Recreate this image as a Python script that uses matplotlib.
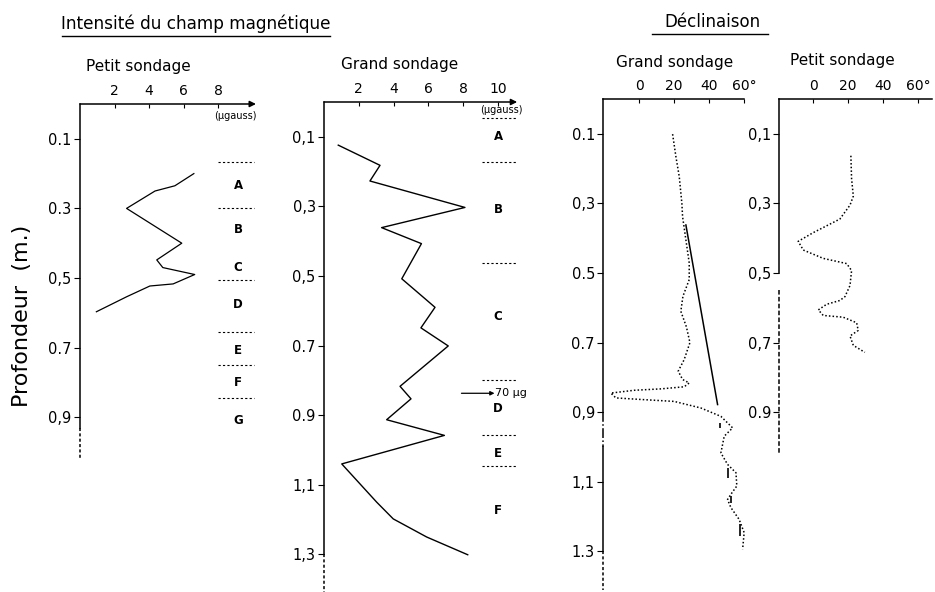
import matplotlib
matplotlib.use("Agg")
import matplotlib.pyplot as plt
from matplotlib.lines import Line2D

W, H = 935, 592

# Intensité du champ magnétique - petit sondage (µgauss / profondeur m)
int_petit_val = [6.6, 5.5, 4.35, 2.7, 5.9, 4.45, 4.8, 6.65, 5.4, 4.05, 2.7, 0.95]
int_petit_prof = [0.20, 0.235, 0.25, 0.30, 0.40, 0.448, 0.47, 0.49, 0.517, 0.523, 0.554, 0.597]

# Intensité - grand sondage
int_grand_val = [0.82, 3.22, 2.64, 8.1, 3.31, 5.6, 4.47, 5.8, 6.38, 5.57, 7.14, 4.37,
                 5.0, 3.6, 6.92, 1.02, 3.03, 3.98, 5.9, 8.26]
int_grand_prof = [0.124, 0.182, 0.227, 0.303, 0.361, 0.407, 0.508, 0.565, 0.59, 0.649,
                  0.701, 0.817, 0.853, 0.913, 0.958, 1.04, 1.15, 1.198, 1.25, 1.301]

# couches (petit / grand sondage)
couches_petit = ["A", "B", "C", "D", "E", "F", "G"]
couches_petit_prof = [0.233, 0.362, 0.47, 0.575, 0.707, 0.80, 0.91]
limites_petit = [0.166, 0.30, 0.506, 0.655, 0.75, 0.845]
couches_grand = ["A", "B", "C", "D", "E", "F"]
couches_grand_prof = [0.10, 0.31, 0.617, 0.882, 1.01, 1.174]
limites_grand = [0.046, 0.172, 0.464, 0.80, 0.957, 1.046]

# Déclinaison - grand sondage (degrés)
decl_grand_val = [19.1, 21.0, 22.9, 24.4, 24.8, 26.7, 28.6, 28.6, 25.0, 23.8, 27.0, 29.0,
                  25.7, 22.3, 24.8, 28.6, 25.7, 12.4, -2.8, -16.2, -13.3, 2.9, 20.0, 35.3,
                  46.7, 53.4, 48.6, 46.7, 50.5, 55.3, 55.8, 52.4, 50.5, 52.4, 57.1, 60.0, 59.1]
decl_grand_prof = [0.101, 0.166, 0.223, 0.30, 0.338, 0.405, 0.471, 0.519, 0.567, 0.61, 0.655,
                   0.70, 0.749, 0.782, 0.806, 0.816, 0.827, 0.833, 0.837, 0.845, 0.859, 0.864,
                   0.869, 0.888, 0.912, 0.945, 0.969, 1.017, 1.05, 1.074, 1.112, 1.136, 1.151,
                   1.174, 1.208, 1.246, 1.294]
droite_val = [26.7, 44.8]
droite_prof = [0.362, 0.878]
tirets_val = [46.3, 50.6, 52.7, 57.4]
tirets_haut = [0.93, 1.06, 1.141, 1.222]
tirets_bas = [0.945, 1.088, 1.16, 1.256]

# Déclinaison - petit sondage
decl_petit_val = [21.5, 21.9, 22.9, 21.0, 15.2, 0.0, -8.6, -5.7, 5.7, 19.1, 21.9, 21.0,
                  18.1, 15.2, 7.6, 2.9, 5.7, 17.1, 24.8, 25.7, 21.0, 22.9, 29.5]
decl_petit_prof = [0.163, 0.229, 0.279, 0.305, 0.345, 0.384, 0.409, 0.434, 0.458, 0.473,
                   0.493, 0.536, 0.568, 0.579, 0.59, 0.606, 0.622, 0.627, 0.643, 0.665,
                   0.681, 0.708, 0.728]

px_m = 348.0


def make_ax(left, top, xmin, xmax, px_unit):
    width = (xmax - xmin) * px_unit
    ax = fig.add_axes([left / W, 0, width / W, (H - top) / H])
    ax.set_xlim(xmin, xmax)
    ax.set_ylim((H - top) / px_m, 0)
    for s in ax.spines.values():
        s.set_visible(False)
    ax.xaxis.tick_top()
    ax.tick_params(axis="x", direction="in", length=3, pad=4, labelsize=10, width=0.8)
    ax.tick_params(axis="y", direction="out", length=4, pad=2, labelsize=10.5, width=0.8)
    return ax


def axe_vertical(ax, segments):
    for d0, d1, ls in segments:
        ax.plot([0, 0], [d0, d1], color="k", lw=1.1, ls=ls,
                transform=ax.get_yaxis_transform(), clip_on=False)


def fleche(ax, xmax):
    ax.annotate("", xy=(xmax, 0), xytext=(ax.get_xlim()[0], 0),
                arrowprops=dict(arrowstyle="-|>", lw=1.1, color="k",
                                shrinkA=0, shrinkB=0, mutation_scale=9),
                annotation_clip=False)


def couches(ax, noms, prof, limites, xl, x0, x1):
    for n, d in zip(noms, prof):
        ax.text(xl, d, n, ha="center", va="center", fontsize=8.5, fontweight="bold",
                clip_on=False)
    for d in limites:
        ax.plot([x0, x1], [d, d], color="k", lw=0.8, ls=(0, (2, 2)), clip_on=False)


fig = plt.figure(figsize=(W / 100, H / 100), dpi=100)

# panneau 1
ax1 = make_ax(80, 104, 0, 10.5, 17.25)
ax1.plot(int_petit_val, int_petit_prof, color="k", lw=0.9)
ax1.set_xticks([2, 4, 6, 8])
ax1.set_yticks([0.1, 0.3, 0.5, 0.7, 0.9], ["0.1", "0.3", "0,5", "0.7", "0,9"])
axe_vertical(ax1, [(0, 0.93, "-"), (0.93, 1.02, (0, (2, 1.5)))])
fleche(ax1, 10.2)
couches(ax1, couches_petit, couches_petit_prof, limites_petit, 9.16, 8.0, 10.1)
ax1.text(7.8, 0.035, "(µgauss)", fontsize=7, va="center", clip_on=False)

# panneau 2
ax2 = make_ax(324, 102, 0, 11.5, 17.4)
ax2.plot(int_grand_val, int_grand_prof, color="k", lw=1.0)
ax2.set_xticks([2, 4, 6, 8, 10])
ax2.set_yticks([0.1, 0.3, 0.5, 0.7, 0.9, 1.1, 1.3],
               ["0,1", "0,3", "0,5", "0.7", "0.9", "1,1", "1,3"])
axe_vertical(ax2, [(0, 1.3, "-"), (1.3, 1.41, (0, (2, 1.5)))])
fleche(ax2, 11.1)
couches(ax2, couches_grand, couches_grand_prof, limites_grand, 10.0, 9.1, 11.1)
ax2.text(9.0, 0.023, "(µgauss)", fontsize=7, va="center", clip_on=False)
ax2.annotate("", xy=(9.8, 0.837), xytext=(7.9, 0.837),
             arrowprops=dict(arrowstyle="-|>", lw=0.9, color="k", shrinkA=0, shrinkB=0,
                             mutation_scale=6), annotation_clip=False)
ax2.text(9.85, 0.837, "70 µg", fontsize=8, va="center", clip_on=False)

# panneau 3
ax3 = make_ax(603.3, 99, -20.5, 62, 1.75)
ax3.plot(decl_grand_val, decl_grand_prof, color="k", lw=1.1, ls=(0, (1, 1.4)))
ax3.plot(droite_val, droite_prof, color="k", lw=1.1)
ax3.vlines(tirets_val, tirets_haut, tirets_bas, color="k", lw=1.2)
ax3.set_xticks([0, 20, 40, 60], ["0", "20", "40", "60°"])
ax3.set_yticks([0.1, 0.3, 0.5, 0.7, 0.9, 1.1, 1.3],
               ["0.1", "0,3", "0.5", "0.7", "0,9", "1,1", "1.3"])
axe_vertical(ax3, [(0, 0.9, "-"), (0.9, 1.0, "-."), (1.0, 1.3, "-"),
                   (1.3, 1.41, (0, (2, 1.5)))])
ax3.plot([-20.5, 60], [0, 0], color="k", lw=1.1, clip_on=False)

# panneau 4
ax4 = make_ax(779.3, 99, -19.4, 68, 1.75)
ax4.plot(decl_petit_val, decl_petit_prof, color="k", lw=1.1, ls=(0, (1, 1.4)))
ax4.set_xticks([0, 20, 40, 60], ["0", "20", "40", "60°"])
ax4.set_yticks([0.1, 0.3, 0.5, 0.7, 0.9], ["0,1", "0,3", "0,5", "0,7", "0.9"])
axe_vertical(ax4, [(0, 0.5, "-"), (0.55, 1.02, (0, (3, 1.5)))])
ax4.plot([-19.4, 68], [0, 0], color="k", lw=1.1, clip_on=False)

# titres
def ftext(x, y, s, **kw):
    fig.text(x / W, 1 - y / H, s, **kw)


def souligne(x0, x1, y):
    fig.add_artist(Line2D([x0 / W, x1 / W], [1 - y / H, 1 - y / H], color="k", lw=1.0))


ftext(196, 24, "Intensité du champ magnétique", ha="center", va="center", fontsize=12.2)
souligne(62, 330, 36)
ftext(712, 22, "Déclinaison", ha="center", va="center", fontsize=12)
souligne(652, 768, 34)

ftext(138, 66, "Petit sondage", ha="center", va="center", fontsize=11)
ftext(400, 64, "Grand sondage", ha="center", va="center", fontsize=11)
ftext(675, 62, "Grand sondage", ha="center", va="center", fontsize=11)
ftext(842, 60, "Petit sondage", ha="center", va="center", fontsize=11)

ftext(22, 316, "Profondeur  (m.)", ha="center", va="center", fontsize=16, rotation=90)

fig.savefig("out.png", dpi=100)
